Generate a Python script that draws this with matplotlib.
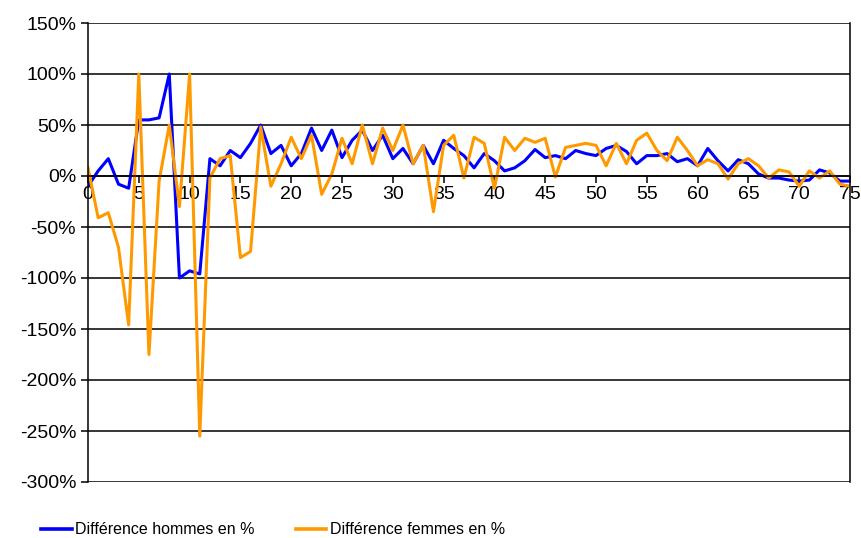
import matplotlib
matplotlib.use("Agg")
import matplotlib.pyplot as plt
from matplotlib.ticker import FuncFormatter, MultipleLocator

ages = list(range(0, 76))

# difference in %
hommes = [-10, 5, 17, -8, -12, 55, 55, 57, 100, -100,
          -93, -96, 17, 10, 25, 18, 32, 50, 22, 30,
          10, 22, 47, 25, 45, 18, 35, 45, 25, 40,
          17, 27, 12, 30, 12, 35, 27, 20, 8, 22,
          15, 5, 8, 15, 26, 18, 20, 17, 25, 22,
          20, 27, 30, 24, 12, 20, 20, 22, 14, 17,
          10, 27, 15, 5, 16, 12, 2, -2, -2, -4,
          -5, -4, 6, 3, -5, -5]

femmes = [8, -41, -36, -70, -146, 100, -175, -5, 50, -30,
          100, -255, -2, 17, 20, -80, -74, 48, -10, 12,
          38, 17, 40, -18, 2, 37, 12, 50, 12, 47,
          25, 50, 12, 30, -35, 30, 40, -2, 38, 32,
          -12, 38, 25, 37, 33, 37, -1, 28, 30, 32,
          30, 10, 32, 12, 35, 42, 25, 15, 38, 25,
          10, 16, 12, -3, 12, 17, 10, -2, 6, 4,
          -10, 5, -2, 5, -8, -10]

labels = ["Différence hommes en %", "Différence femmes en %"]

plt.rcParams["font.family"] = ["Liberation Sans", "DejaVu Sans"]

fig = plt.figure(figsize=(8.61, 5.38), dpi=100)
ax = fig.add_axes([88 / 861, 1 - 482 / 538, (850 - 88) / 861, (482 - 23) / 538])

l1, = ax.plot(ages, hommes, color="#0000ff", lw=2.2)
l2, = ax.plot(ages, femmes, color="#ff9900", lw=2.2)

ax.set_xlim(0, 75)
ax.set_ylim(-300, 150)
ax.yaxis.set_major_locator(MultipleLocator(50))
ax.xaxis.set_major_locator(MultipleLocator(5))
ax.yaxis.set_major_formatter(FuncFormatter(lambda v, p: f"{int(v)}%"))
ax.grid(axis="y", color="black", lw=1.1)
ax.set_axisbelow(True)

# x axis runs through zero
ax.spines["bottom"].set_position(("data", 0))
ax.spines["top"].set_visible(False)
for s in ["left", "bottom", "right"]:
    ax.spines[s].set_linewidth(1.1)
ax.tick_params(axis="both", direction="out", length=5, width=1.1,
               labelsize=14, colors="black")
ax.tick_params(axis="x", pad=2)

leg = fig.legend([l1, l2], labels, loc="center left",
                 bbox_to_anchor=(35 / 861, 1 - 530 / 538), ncol=2,
                 frameon=False, fontsize=11.5, handlelength=1.9,
                 handletextpad=0.2, columnspacing=2.6, borderaxespad=0)
for line in leg.get_lines():
    line.set_linewidth(2.6)

fig.savefig("out.png", dpi=100)
